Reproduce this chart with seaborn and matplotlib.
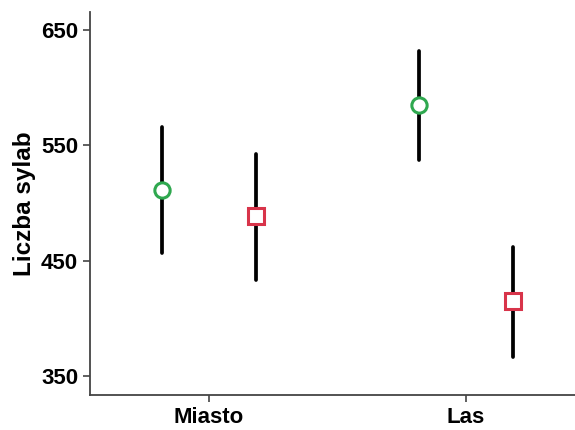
import matplotlib
matplotlib.use("Agg")
import matplotlib.pyplot as plt
import seaborn as sns
import pandas as pd

categories = ["Miasto", "Las"]
groups = ["A", "B"]
means = {"A": [511.5, 585.1], "B": [488.4, 414.8]}
ci_low = {"A": [456.6, 537.4], "B": [433.5, 366.6]}
ci_high = {"A": [565.8, 632.1], "B": [542.6, 461.8]}
yticks = [350, 450, 550, 650]

rows = []
for g in groups:
    for i, c in enumerate(categories):
        for v in (ci_low[g][i], means[g][i], ci_high[g][i]):
            rows.append({"miejsce": c, "grupa": g, "wartosc": v})
df = pd.DataFrame(rows)

sns.set_style("ticks")
plt.rcParams["font.family"] = ["Liberation Sans", "DejaVu Sans"]

fig = plt.figure(figsize=(5.75, 4.3), dpi=100)
ax = fig.add_axes([0.1565, 0.0814, 0.8435, 0.8907])

sns.pointplot(
    data=df, x="miejsce", y="wartosc", hue="grupa", order=categories,
    hue_order=groups, palette={"A": "#2fa84f", "B": "#d8344a"},
    estimator="median", errorbar=("pi", 100), dodge=0.366,
    markers=["o", "s"], linestyles="none", markersize=11,
    markeredgewidth=2.2, markerfacecolor="white", zorder=3,
    err_kws={"color": "black", "linewidth": 2.7, "zorder": 2},
    legend=False, ax=ax,
)

ax.set_ylim(333.5, 665.6)
ax.set_xlim(-0.463, 1.424)
ax.set_yticks(yticks)
ax.set_yticklabels([str(t) for t in yticks], fontsize=16, fontweight="bold", color="black")
ax.set_xticks(range(len(categories)))
ax.set_xticklabels(categories, fontsize=16, fontweight="bold", color="black")
ax.set_xlabel("")
ax.set_ylabel("Liczba sylab", fontsize=17.5, fontweight="bold", labelpad=4, color="black")
for s in ["top", "right"]:
    ax.spines[s].set_visible(False)
for s in ["left", "bottom"]:
    ax.spines[s].set_color("#444444")
    ax.spines[s].set_linewidth(1.3)
ax.tick_params(axis="both", colors="#444444", width=1.2, length=5, labelcolor="black")

fig.savefig("out.png", dpi=100)
